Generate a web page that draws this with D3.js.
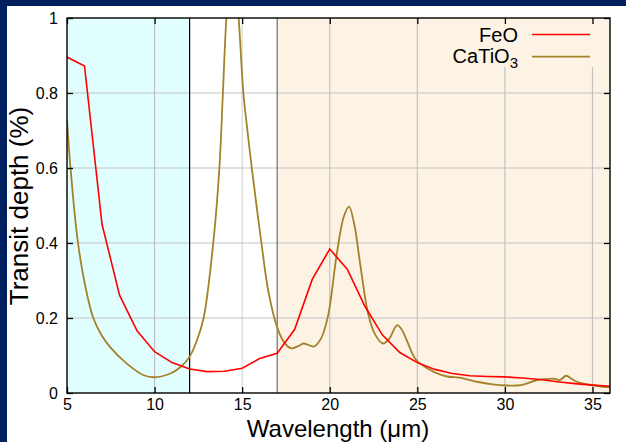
<!DOCTYPE html>
<html><head><meta charset="utf-8">
<script src="https://cdn.jsdelivr.net/npm/d3@7"></script>
<style>
html,body{margin:0;padding:0;background:#fff;}
svg{display:block;font-family:"Liberation Sans",Arial,Helvetica,sans-serif;}
</style></head>
<body>
<svg id="chart" width="626" height="442"></svg>
<script>
// ---- data ----
const feoX = [5,6,7,8,9,10,11,12,13,14,15,16,17,18,19,20,21,22,23,24,25,26,27,28,29,30,31,32,33,34,35,36];
const feoY = [0.896,0.872,0.45,0.261,0.166,0.110,0.081,0.064,0.057,0.058,0.066,0.092,0.106,0.170,0.303,0.384,0.330,0.232,0.155,0.108,0.081,0.063,0.052,0.046,0.044,0.043,0.040,0.036,0.030,0.025,0.021,0.018];

const catX = [5.0,5.2,5.6,6.0,6.5,7.0,7.45,8.4,9.35,10.0,10.9,11.5,12.0,12.4,12.8,13.35,13.7,13.9,14.1,14.45,14.8,15.07,15.3,15.55,16.1,16.5,17.0,17.4,17.8,18.2,18.5,18.8,19.1,19.5,19.9,20.4,20.8,21.1,21.4,21.75,22.2,22.6,23.05,23.4,23.85,24.1,24.4,24.9,25.5,26.0,26.7,27.4,28.4,29.3,30.1,30.7,31.1,31.8,32.3,32.8,33.15,33.5,33.8,34.1,34.85,36];
const catY = [0.728,0.60,0.41,0.295,0.20,0.152,0.123,0.079,0.048,0.042,0.052,0.070,0.097,0.138,0.20,0.40,0.60,0.80,1.0,1.2,1.0,0.80,0.70,0.60,0.40,0.27,0.175,0.135,0.119,0.125,0.132,0.128,0.124,0.145,0.205,0.37,0.47,0.497,0.45,0.34,0.21,0.155,0.132,0.145,0.181,0.17,0.14,0.09,0.068,0.055,0.044,0.041,0.030,0.023,0.020,0.020,0.023,0.034,0.037,0.038,0.035,0.046,0.038,0.030,0.022,0.015];

const xTicks = [5,10,15,20,25,30,35];
const yTicks = [0,0.2,0.4,0.6,0.8,1];
const regions = [
  {from:5, to:12, fill:"#e0fefe"},
  {from:12, to:17, fill:"#ffffff"},
  {from:17, to:36, fill:"#fdf3e5"}
];
const seriesNames = ["FeO","CaTiO"];
const seriesColors = ["#ff0000","#a3822a"];

// ---- layout ----
const svg = d3.select("#chart");
const L = 67, R = 610, T = 18, B = 393;
const x = d3.scaleLinear().domain([5,36]).range([L,R]);
const y = d3.scaleLinear().domain([0,1]).range([B,T]);

// navy frame
svg.append("rect").attr("x",0).attr("y",0).attr("width",626).attr("height",6).attr("fill","#001f5f");
svg.append("rect").attr("x",0).attr("y",0).attr("width",7).attr("height",442).attr("fill","#001f5f");

// regions
svg.selectAll("rect.reg").data(regions).enter().append("rect")
  .attr("class","reg")
  .attr("x",d=>x(d.from)).attr("y",T)
  .attr("width",d=>x(d.to)-x(d.from)).attr("height",B-T)
  .attr("fill",d=>d.fill);

// grid
const grid = svg.append("g");
grid.selectAll("line.gx").data(xTicks.filter(d=>d>5)).enter().append("line")
  .attr("x1",d=>x(d)).attr("x2",d=>x(d)).attr("y1",T).attr("y2",B)
  .attr("stroke",d=>(d>12&&d<17)?"#d6d6d6":"#c2c2c2").attr("stroke-width",1.2);
grid.selectAll("line.gy").data(yTicks.filter(d=>d>0&&d<1)).enter().append("line")
  .attr("x1",L).attr("x2",R).attr("y1",d=>y(d)).attr("y2",d=>y(d))
  .attr("stroke","#c2c2c2").attr("stroke-width",1.2);

// legend box (hides grid)
svg.append("rect").attr("x",440).attr("y",T+1).attr("width",160).attr("height",48).attr("fill","#fdf3e5");

// region boundaries
svg.append("line").attr("x1",x(12)).attr("x2",x(12)).attr("y1",T).attr("y2",B).attr("stroke","#000").attr("stroke-width",1.2);
svg.append("line").attr("x1",x(17)).attr("x2",x(17)).attr("y1",T).attr("y2",B).attr("stroke","#6e6e6e").attr("stroke-width",1.2);

// clip
svg.append("clipPath").attr("id","clip").append("rect").attr("x",L).attr("y",T).attr("width",R-L).attr("height",B-T);

const feo = feoX.map((v,i)=>[v,feoY[i]]);
const cat = catX.map((v,i)=>[v,catY[i]]);

const lineLin = d3.line().x(d=>x(d[0])).y(d=>y(d[1]));
const lineSm = d3.line().x(d=>x(d[0])).y(d=>y(d[1])).curve(d3.curveCatmullRom.alpha(0.5));

const plot = svg.append("g").attr("clip-path","url(#clip)");
plot.append("path").datum(cat).attr("d",lineSm).attr("fill","none").attr("stroke",seriesColors[1]).attr("stroke-width",1.8);
plot.append("path").datum(feo).attr("d",lineLin).attr("fill","none").attr("stroke",seriesColors[0]).attr("stroke-width",1.6);

// axes (ticks inward, on all sides)
const tl = 6;
const axB = d3.axisBottom(x).tickValues(xTicks).tickSizeInner(-tl).tickSizeOuter(0).tickPadding(6).tickFormat(d3.format("d"));
const axT = d3.axisTop(x).tickValues(xTicks).tickSizeInner(-tl).tickSizeOuter(0).tickFormat("");
const axL = d3.axisLeft(y).tickValues(yTicks).tickSizeInner(-tl).tickSizeOuter(0).tickPadding(9).tickFormat(d3.format("~g"));
const axR = d3.axisRight(y).tickValues(yTicks).tickSizeInner(-tl).tickSizeOuter(0).tickFormat("");

function style(g){
  g.select(".domain").remove();
  g.selectAll(".tick line").attr("stroke","#000").attr("stroke-width",1.3);
  g.selectAll(".tick text").attr("fill","#000").attr("font-size","16px").attr("font-family","'Liberation Sans',Arial,Helvetica,sans-serif");
}
svg.append("g").attr("transform",`translate(0,${B})`).call(axB).call(style);
svg.append("g").attr("transform",`translate(0,${T})`).call(axT).call(style);
svg.append("g").attr("transform",`translate(${L},0)`).call(axL).call(style);
svg.append("g").attr("transform",`translate(${R},0)`).call(axR).call(style);

// border
svg.append("rect").attr("x",L).attr("y",T).attr("width",R-L).attr("height",B-T)
  .attr("fill","none").attr("stroke","#000").attr("stroke-width",1.4);

// legend
const lg = svg.append("g");
lg.append("text").attr("x",518).attr("y",42).attr("text-anchor","end").attr("font-size","20px").attr("fill","#000").text(seriesNames[0]);
lg.append("line").attr("x1",532).attr("x2",590).attr("y1",34.5).attr("y2",34.5).attr("stroke",seriesColors[0]).attr("stroke-width",1.6);
const t2 = lg.append("text").attr("x",518).attr("y",63).attr("text-anchor","end").attr("font-size","20px").attr("fill","#000");
t2.append("tspan").text(seriesNames[1]);
t2.append("tspan").attr("dy",5).attr("font-size","15px").text("3");
lg.append("line").attr("x1",532).attr("x2",590).attr("y1",56.7).attr("y2",56.7).attr("stroke",seriesColors[1]).attr("stroke-width",1.8);

// axis titles
svg.append("text").attr("x",338).attr("y",436.5).attr("text-anchor","middle").attr("font-size","24px").attr("fill","#000")
  .text("Wavelength (\u03bcm)");
svg.append("text").attr("transform","translate(28,206) rotate(-90)").attr("text-anchor","middle").attr("font-size","26px").attr("fill","#000")
  .text("Transit depth (%)");
</script>
</body></html>
